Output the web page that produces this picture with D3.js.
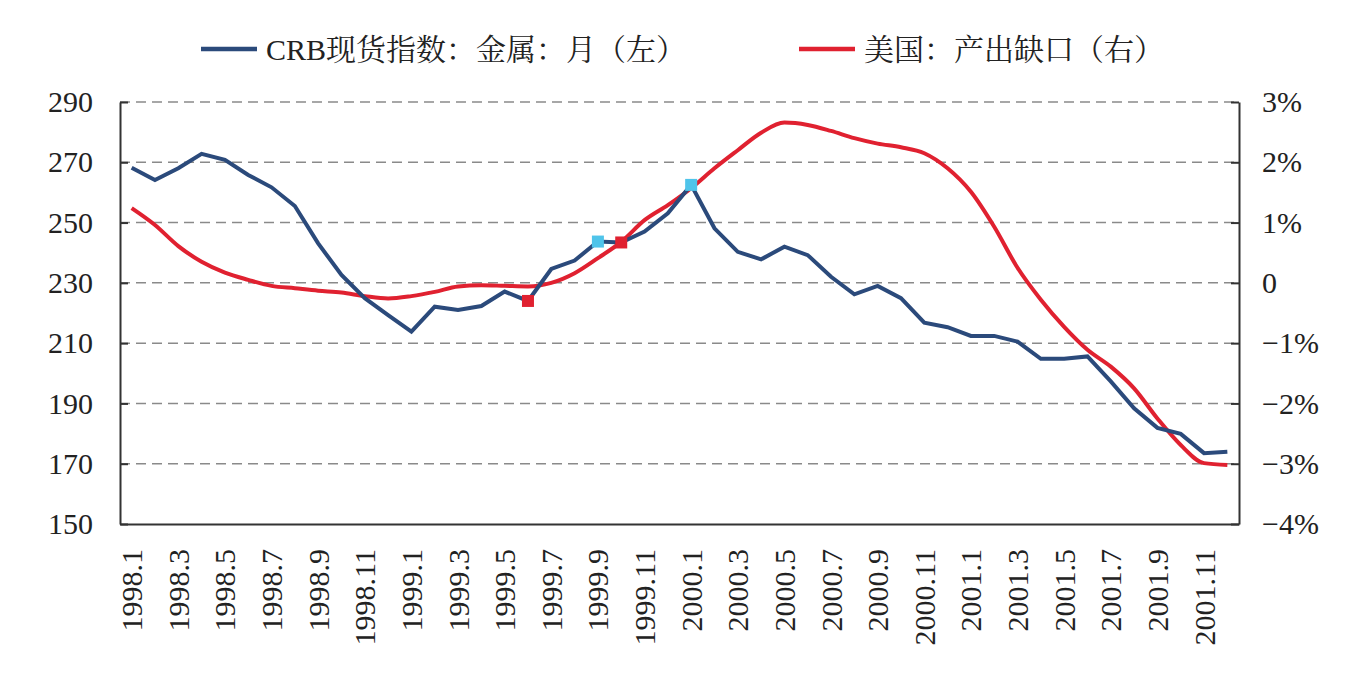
<!DOCTYPE html>
<html>
<head>
<meta charset="utf-8">
<script src="https://cdn.jsdelivr.net/npm/d3@7"></script>
<style>
  body { margin: 0; background: #fff; }
  text { font-family: "Liberation Serif", "Noto Serif CJK SC", "Noto Sans CJK SC", serif; fill: #222; }
</style>
</head>
<body>
<div id="chart_container"></div>
<script>
var months = ["1998.1", "1998.2", "1998.3", "1998.4", "1998.5", "1998.6", "1998.7", "1998.8", "1998.9", "1998.10", "1998.11", "1998.12",
              "1999.1", "1999.2", "1999.3", "1999.4", "1999.5", "1999.6", "1999.7", "1999.8", "1999.9", "1999.10", "1999.11", "1999.12",
              "2000.1", "2000.2", "2000.3", "2000.4", "2000.5", "2000.6", "2000.7", "2000.8", "2000.9", "2000.10", "2000.11", "2000.12",
              "2001.1", "2001.2", "2001.3", "2001.4", "2001.5", "2001.6", "2001.7", "2001.8", "2001.9", "2001.10", "2001.11", "2001.12"];

// CRB spot index: metals, monthly (left axis)
var crbMetals = [268.2, 264.1, 268.0, 272.8, 270.8, 265.8, 261.7, 255.5, 243.1, 232.6, 224.9, 219.3,
                 213.8, 222.1, 221.0, 222.3, 227.1, 224.0, 234.6, 237.4, 243.7, 243.4, 247.0, 253.1,
                 262.5, 248.1, 240.3, 237.8, 242.0, 239.2, 232.0, 226.2, 229.0, 224.9, 216.8, 215.3,
                 212.4, 212.4, 210.5, 204.8, 204.8, 205.6, 197.3, 188.4, 181.9, 179.9, 173.5, 174.0];

// US output gap, % (right axis)
var outputGap = [1.24, 0.96, 0.61, 0.35, 0.17, 0.05, -0.05, -0.09, -0.13, -0.16, -0.22, -0.26,
                 -0.22, -0.15, -0.06, -0.04, -0.05, -0.06, 0.00, 0.16, 0.41, 0.68, 1.04, 1.29,
                 1.57, 1.90, 2.20, 2.49, 2.66, 2.62, 2.52, 2.40, 2.31, 2.25, 2.15, 1.90,
                 1.51, 0.93, 0.25, -0.28, -0.73, -1.11, -1.39, -1.75, -2.25, -2.69, -2.99, -3.02];

var leftTicks = [150, 170, 190, 210, 230, 250, 270, 290];
var rightTicks = [-4, -3, -2, -1, 0, 1, 2, 3];
var seriesNames = ["CRB现货指数：金属：月（左）", "美国：产出缺口（右）"];
var cyanMarks = ["1999.9", "2000.1"];
var redMarks = ["1999.6", "1999.10"];

var colors = {blue: "#2b4a7b", red: "#e02130", cyan: "#4fc4ea"};

draw_chart();

function draw_chart() {
    var chart_width = 1346;
    var chart_height = 679;
    var margin = {top: 102, right: 107, bottom: 155, left: 120};
    var width = chart_width - margin.left - margin.right;
    var height = chart_height - margin.top - margin.bottom;

    var svg = d3.select("#chart_container")
        .append("svg")
        .attr("width", chart_width)
        .attr("height", chart_height);

    var plot = svg.append("g")
        .attr("transform", "translate(" + margin.left + "," + margin.top + ")");

    var x = d3.scaleBand()
        .domain(months)
        .range([0, width]);
    var xc = function(d) { return x(d) + x.bandwidth() / 2; };

    var yLeft = d3.scaleLinear().domain([150, 290]).range([height, 0]);
    var yRight = d3.scaleLinear().domain([-4, 3]).range([height, 0]);

    // dashed grid lines
    plot.append("g")
        .selectAll("line")
        .data(leftTicks.slice(1))
        .enter()
        .append("line")
        .attr("x1", 0)
        .attr("x2", width)
        .attr("y1", function(d) { return yLeft(d); })
        .attr("y2", function(d) { return yLeft(d); })
        .style("stroke", "#8a8a8a")
        .style("stroke-width", 1.5)
        .style("stroke-dasharray", "10,6");

    // left axis
    var leftAxis = plot.append("g")
        .call(d3.axisLeft(yLeft).tickValues(leftTicks).tickSizeInner(-8).tickSizeOuter(0).tickPadding(27));
    // right axis
    var rightAxis = plot.append("g")
        .attr("transform", "translate(" + width + ",0)")
        .call(d3.axisRight(yRight).tickValues(rightTicks).tickSizeInner(-8).tickSizeOuter(0).tickPadding(23)
            .tickFormat(function(d) { return d === 0 ? "0" : (d < 0 ? "\u2212" + Math.abs(d) : d) + "%"; }));
    // bottom axis
    var bottomAxis = plot.append("g")
        .attr("transform", "translate(0," + height + ")")
        .call(d3.axisBottom(x)
            .tickValues(months.filter(function(d, i) { return i % 2 === 0; }))
            .tickSize(0).tickPadding(0));

    [leftAxis, rightAxis, bottomAxis].forEach(function(a) {
        a.select(".domain").style("stroke", "#333").style("stroke-width", 2);
        a.selectAll(".tick line").style("stroke", "#333").style("stroke-width", 2);
        a.selectAll("text")
            .style("font-family", "'Liberation Serif', serif")
            .style("font-size", "30px")
            .attr("fill", "#222");
    });

    bottomAxis.selectAll("text")
        .attr("transform", "translate(0,25) rotate(-90)")
        .attr("text-anchor", "end")
        .attr("x", 0)
        .attr("y", 0)
        .attr("dy", "0.35em");

    // lines
    var blueLine = d3.line()
        .x(function(d, i) { return xc(months[i]); })
        .y(function(d) { return yLeft(d); });

    var redLine = d3.line()
        .x(function(d, i) { return xc(months[i]); })
        .y(function(d) { return yRight(d); })
        .curve(d3.curveMonotoneX);

    plot.append("path")
        .datum(outputGap)
        .attr("d", redLine)
        .attr("fill", "none")
        .style("stroke", colors.red)
        .style("stroke-width", 4);

    plot.append("path")
        .datum(crbMetals)
        .attr("d", blueLine)
        .attr("fill", "none")
        .style("stroke", colors.blue)
        .style("stroke-width", 4);

    // square markers on the metals line
    var sq = 12;
    plot.selectAll(".cyan-mark")
        .data(cyanMarks)
        .enter()
        .append("rect")
        .attr("x", function(d) { return xc(d) - sq / 2; })
        .attr("y", function(d) { return yLeft(crbMetals[months.indexOf(d)]) - sq / 2; })
        .attr("width", sq)
        .attr("height", sq)
        .attr("fill", colors.cyan);

    plot.selectAll(".red-mark")
        .data(redMarks)
        .enter()
        .append("rect")
        .attr("x", function(d) { return xc(d) - sq / 2; })
        .attr("y", function(d) { return yLeft(crbMetals[months.indexOf(d)]) - sq / 2; })
        .attr("width", sq)
        .attr("height", sq)
        .attr("fill", colors.red);

    // legend
    var legend = svg.append("g").attr("id", "legend");
    var legendItems = [
        {name: seriesNames[0], color: colors.blue, x: 201},
        {name: seriesNames[1], color: colors.red, x: 799}
    ];
    legendItems.forEach(function(d) {
        legend.append("line")
            .attr("x1", d.x)
            .attr("x2", d.x + 56)
            .attr("y1", 49)
            .attr("y2", 49)
            .style("stroke", d.color)
            .style("stroke-width", 4.5);
        legend.append("text")
            .attr("x", d.x + 65)
            .attr("y", 49)
            .attr("dy", "0.35em")
            .style("font-size", "30px")
            .text(d.name);
    });
}
</script>
</body>
</html>
